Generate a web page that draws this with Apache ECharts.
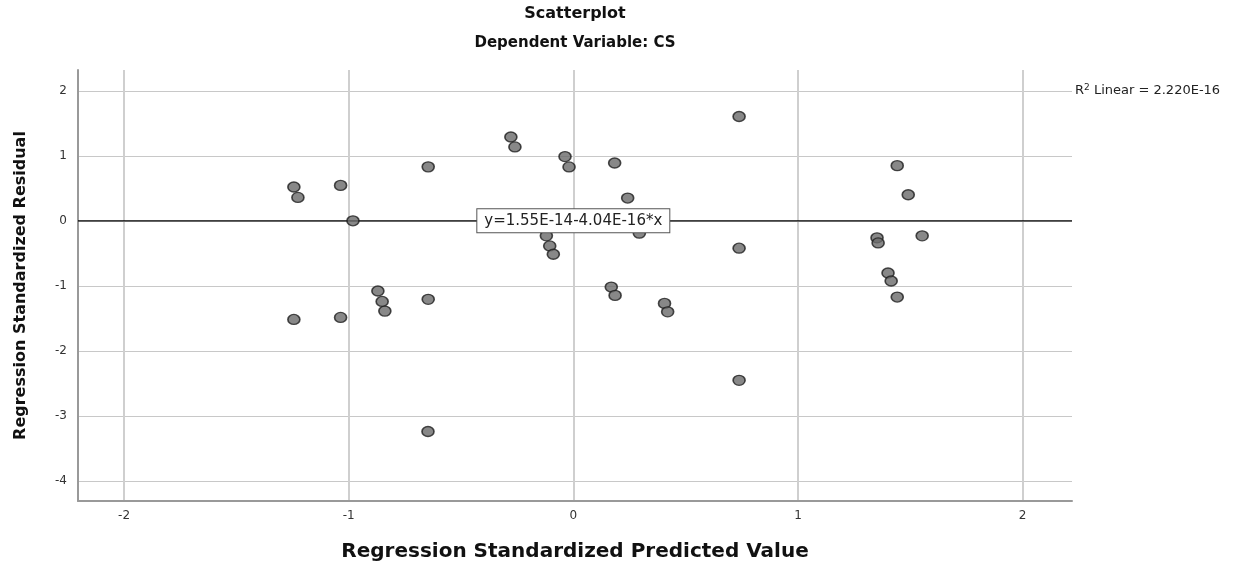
<!DOCTYPE html>
<html>
<head>
<meta charset="utf-8">
<title>Scatterplot</title>
<script src="https://cdn.jsdelivr.net/npm/echarts@6/dist/echarts.min.js"></script>
<style>
  html, body { margin: 0; padding: 0; background: #fff; }
  #chart { width: 1242px; height: 561px; }
</style>
</head>
<body>
<div id="chart"></div>
<script>
// standardized predicted value (x) / standardized residual (y)
const predicted = [
  -1.244, -1.226, -1.036, -0.981, -0.646, -0.870, -0.851, -0.839, -0.646, -1.244,
  -1.036, -0.647, -0.278, -0.260, -0.037, -0.019, 0.184, 0.242, -0.120, -0.105,
  -0.089, 0.294, 0.169, 0.186, 0.406, 0.420, 0.738, 0.738, 0.738, 1.442,
  1.491, 1.352, 1.357, 1.553, 1.401, 1.415, 1.442
]
const residual = [
  0.520, 0.360, 0.545, 0.000, 0.830, -1.080, -1.240, -1.389, -1.208, -1.517,
  -1.486, -3.240, 1.290, 1.137, 0.988, 0.829, 0.890, 0.350, -0.231, -0.386,
  -0.514, -0.190, -1.019, -1.147, -1.270, -1.400, 1.605, -0.421, -2.454, 0.849,
  0.401, -0.262, -0.340, -0.231, -0.802, -0.926, -1.173
]

const fitIntercept = 1.55e-14
const fitSlope = -4.04e-16
const equationText = 'y=1.55E-14-4.04E-16*x'
const rSquaredText = '2.220E-16'

const xRange = [-2.205, 2.22]
const yRange = [-4.31, 2.32]

const fit = (x) => fitIntercept + fitSlope * x

const chart = echarts.init(document.getElementById('chart'))

const labelFont = { fontFamily: 'DejaVu Sans', fontSize: 12, color: '#333' }
const nameFont = { fontFamily: 'DejaVu Sans', fontWeight: 'bold', color: '#111' }

chart.setOption({
  animation: false,
  backgroundColor: '#fff',
  title: [{
    text: 'Scatterplot',
    left: 570,
    top: 1,
    textAlign: 'center',
    textStyle: { fontFamily: 'DejaVu Sans', fontWeight: 'bold', fontSize: 16, color: '#111' }
  }, {
    text: 'Dependent Variable: CS',
    left: 570,
    top: 31,
    textAlign: 'center',
    textStyle: { fontFamily: 'DejaVu Sans', fontWeight: 'bold', fontSize: 15, color: '#111' }
  }],
  grid: { left: 78, top: 70, right: 170, bottom: 60, outerBoundsMode: 'none' },
  xAxis: {
    type: 'value',
    min: xRange[0],
    max: xRange[1],
    name: 'Regression Standardized Predicted Value',
    nameLocation: 'middle',
    nameGap: 41,
    nameTextStyle: { ...nameFont, fontSize: 20 },
    axisLine: { show: true, onZero: false, lineStyle: { color: '#999', width: 2 } },
    axisTick: { show: false },
    axisLabel: { ...labelFont, margin: 9, showMinLabel: false, showMaxLabel: false },
    splitLine: { show: true, showMinLine: false, showMaxLine: false, lineStyle: { color: '#cfcfcf', width: 2 } }
  },
  yAxis: {
    type: 'value',
    min: yRange[0],
    max: yRange[1],
    name: 'Regression Standardized Residual',
    nameLocation: 'middle',
    nameGap: 49,
    nameTextStyle: { ...nameFont, fontSize: 16 },
    axisLine: { show: true, onZero: false, lineStyle: { color: '#999', width: 2 } },
    axisTick: { show: false },
    axisLabel: { ...labelFont, margin: 11, showMinLabel: false, showMaxLabel: false },
    splitLine: { show: true, showMinLine: false, showMaxLine: false, lineStyle: { color: '#c8c8c8', width: 1 } }
  },
  series: [{
    type: 'line',
    z: 1,
    data: xRange.map(x => [x, fit(x)]),
    showSymbol: false,
    lineStyle: { color: '#000', width: 1.3 },
    silent: true,
    markPoint: {
      symbol: 'rect',
      symbolSize: 0,
      data: [{ coord: [0, fit(0)] }],
      label: {
        show: true,
        position: 'inside',
        formatter: equationText,
        fontFamily: 'DejaVu Sans',
        fontSize: 15,
        color: '#222',
        backgroundColor: '#fff',
        borderColor: '#555',
        borderWidth: 1,
        padding: [4, 7]
      }
    }
  }, {
    type: 'scatter',
    z: 2,
    data: predicted.map((x, i) => [x, residual[i]]),
    symbol: 'circle',
    symbolSize: [12, 10],
    itemStyle: { color: '#6a6a6a', borderColor: '#1e1e1e', borderWidth: 1.5 }
  }],
  graphic: [{
    type: 'text',
    left: 1075,
    top: 83,
    style: {
      text: '{a|R}{s|2}{a| Linear = ' + rSquaredText + '}',
      rich: {
        a: { fontFamily: 'DejaVu Sans', fontSize: 13, fill: '#222', color: '#222' },
        s: { fontFamily: 'DejaVu Sans', fontSize: 9, fill: '#222', color: '#222', verticalAlign: 'top', padding: [0, 0, 6, 0] }
      }
    }
  }]
})
</script>
</body>
</html>
